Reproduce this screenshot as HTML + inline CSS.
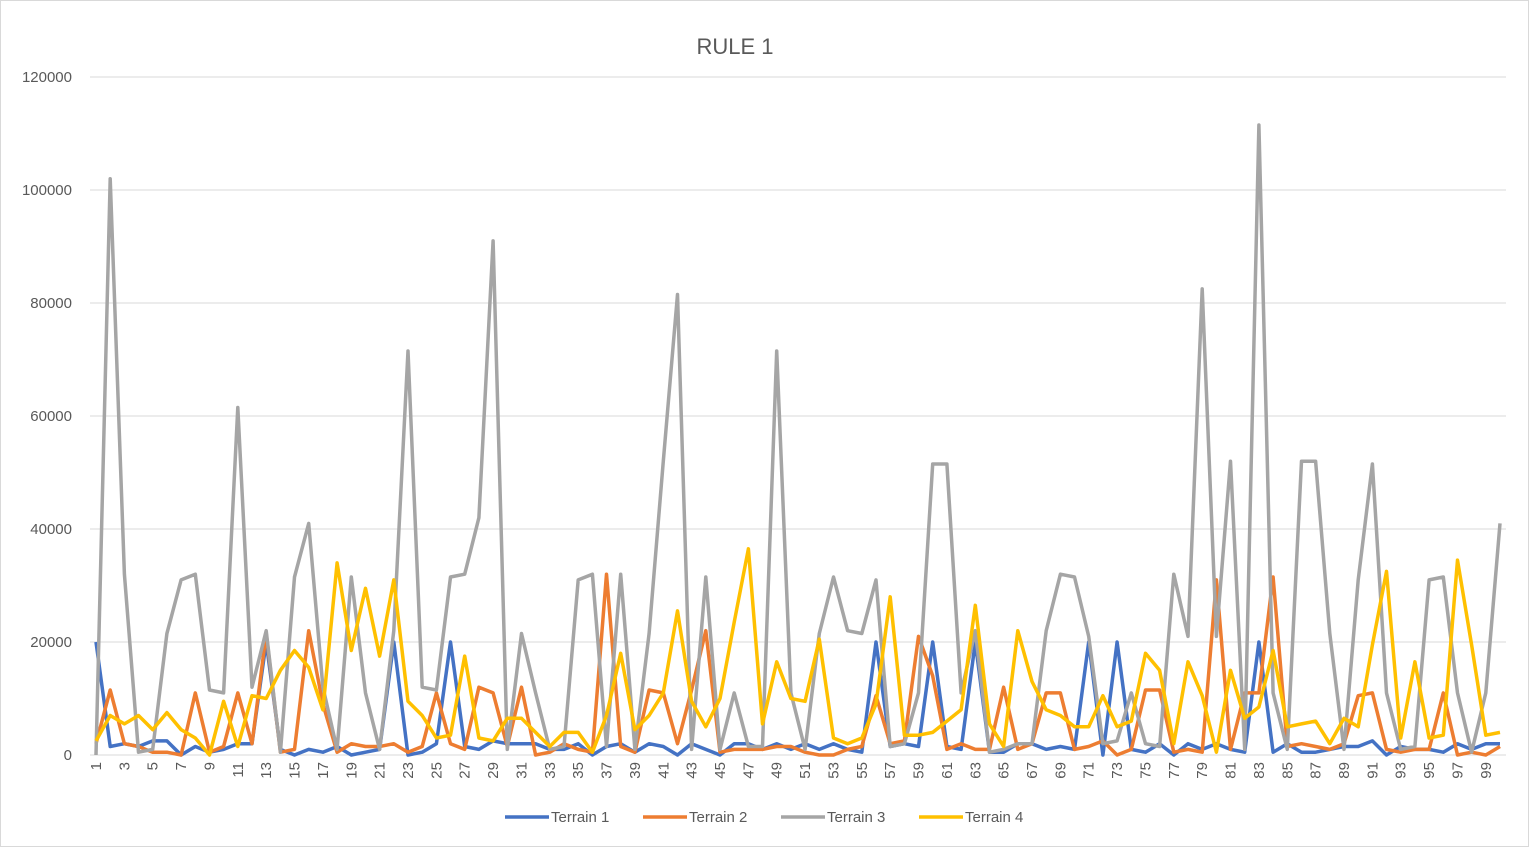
<!DOCTYPE html>
<html><head><meta charset="utf-8"><style>
body{margin:0;background:#fff;}
svg{display:block;font-family:"Liberation Sans",sans-serif;}
</style></head><body>
<svg id="chart" width="1529" height="847">
<rect x="0.5" y="0.5" width="1528" height="846" fill="#fff" stroke="#d9d9d9"/>
<text x="735" y="54" font-size="22" fill="#595959" text-anchor="middle">RULE 1</text>
<g id="grid"></g><g id="yt"></g><g id="xt"></g><g id="lines"></g><g id="legend"></g>
</svg>
<script>
const yTicks=[0,20000,40000,60000,80000,100000,120000];
const seriesNames=["Terrain 1","Terrain 2","Terrain 3","Terrain 4"];
const seriesColors=["#4472c4","#ed7d31","#a5a5a5","#ffc000"];
const t1=[20,1.5,2,1.5,2.5,2.5,0,1.5,0.5,1,2,2,20,1,0,1,0.5,1.5,0,0.5,1,20,0,0.5,2,20,1.5,1,2.5,2,2,2,1,1,2,0,1.5,2,0.5,2,1.5,0,2,1,0,2,2,1,2,1,2,1,2,1,0.5,20,1.5,2,1.5,20,1.5,1,20,0.5,0.5,2,2,1,1.5,1,20,0,20,1,0.5,2,0,2,1,2,1,0.5,20,0.5,2,0.5,0.5,1,1.5,1.5,2.5,0,1.5,1,1,0.5,2,1,2,2];
const t2=[2,11.5,2,1.5,0.5,0.5,0,11,0.5,1.5,11,2,21.5,0.5,1,22,9,0.5,2,1.5,1.5,2,0.5,1.5,11,2,1,12,11,1.5,12,0,0.5,2,1,0.5,32,1.5,0.5,11.5,11,2,11.5,22,0.5,1,1,1,1.5,1.5,0.5,0,0,1,1.5,10.5,2,2.5,21,14,1,2,1,1,12,1,2,11,11,1,1.5,2.5,0,1,11.5,11.5,0.5,1,0.5,31,1,11,11,31.5,1.5,2,1.5,1,2,10.5,11,1,0.5,1,1,11,0,0.5,0,1.5];
const t3=[0,102,32,0.5,1,21.5,31,32,11.5,11,61.5,12,22,0.5,31.5,41,12,1,31.5,11,1,22,71.5,12,11.5,31.5,32,42,91,1,21.5,11,1,1.5,31,32,1.5,32,1,21.5,52,81.5,1,31.5,1,11,1.5,1.5,71.5,11,1,21.5,31.5,22,21.5,31,1.5,2,11,51.5,51.5,11,22,0.5,1,2,2,22,32,31.5,21,2,2.5,11,2,1.5,32,21,82.5,21,52,1,111.5,11,1,52,52,21.5,1,31,51.5,11,1,1.5,31,31.5,11,0.5,11,41];
const t4=[2.5,7,5.5,7,4.5,7.5,4.5,3,0,9.5,1.5,10.5,10,15,18.5,15.5,8,34,18.5,29.5,17.5,31,9.5,7,3,3.5,17.5,3,2.5,6.5,6.5,4,1.5,4,4,0.5,7,18,4.5,7,11,25.5,9.5,5,10,23.5,36.5,5.5,16.5,10,9.5,20.5,3,2,3,9,28,3.5,3.5,4,6,8,26.5,5.5,1.5,22,13,8,7,5,5,10.5,5,6,18,15,2,16.5,10.5,0.5,15,6.5,8.5,18.5,5,5.5,6,2,6.5,5,19.5,32.5,3,16.5,3,3.5,34.5,19.5,3.5,4];
const NS="http://www.w3.org/2000/svg";
const X0=96,X1=1500,Y0=755,Y1=77,L=90,R=1506;
const n=t1.length;
function xs(i){return X0+(X1-X0)*i/(n-1);}
function ys(v){return Y0-(Y0-Y1)*v/120000;}
function mk(tag,attrs,parent){const e=document.createElementNS(NS,tag);for(const k in attrs)e.setAttribute(k,attrs[k]);parent.appendChild(e);return e;}
const grid=document.getElementById('grid'),yt=document.getElementById('yt'),xt=document.getElementById('xt'),lines=document.getElementById('lines'),leg=document.getElementById('legend');
yTicks.forEach(v=>{
 const g=mk('line',{x1:L,x2:R,y1:ys(v),y2:ys(v),stroke:'#d9d9d9','stroke-width':1},grid);
 
 
 const t=mk('text',{x:72,y:ys(v)+5,'font-size':15,fill:'#595959','text-anchor':'end'},yt);
 t.textContent=v;
 
 
});
for(let i=0;i<n;i+=2){
 const x=xs(i);
 const t=mk('text',{x:0,y:0,'font-size':15,fill:'#595959','text-anchor':'end',transform:`translate(${x+5},762) rotate(-90)`},xt);
 t.textContent=i+1;
 
 
}
[t1,t2,t3,t4].forEach((d,s)=>{
 const pts=d.map((v,i)=>xs(i).toFixed(1)+','+ys(v*1000).toFixed(1)).join(' ');
 const p=mk('polyline',{points:pts,fill:'none',stroke:seriesColors[s],'stroke-width':3.5,'stroke-linejoin':'round'},lines);
 
 
});
const lx=[505,643,781,919];
seriesNames.forEach((nm,s)=>{
 const g=mk('g',{},leg);
 
 
 mk('line',{x1:lx[s],x2:lx[s]+44,y1:817,y2:817,stroke:seriesColors[s],'stroke-width':3.5},g);
 const t=mk('text',{x:lx[s]+46,y:822,'font-size':15,fill:'#595959'},g);
 t.textContent=nm;
});
</script>
</body></html>
